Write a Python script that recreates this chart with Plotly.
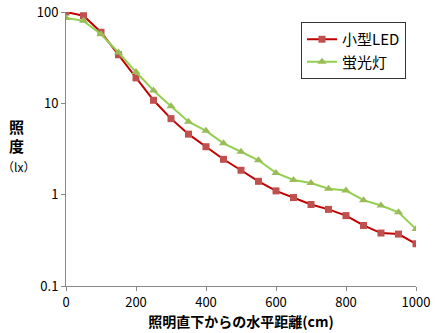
import plotly.graph_objects as go

distance = [0, 50, 100, 150, 200, 250, 300, 350, 400, 450, 500, 550, 600, 650, 700, 750, 800, 850, 900, 950, 1000]
led = [100, 91, 60, 34, 19, 10.8, 6.8, 4.6, 3.35, 2.44, 1.85, 1.40, 1.10, 0.93, 0.78, 0.69, 0.59, 0.46, 0.38, 0.37, 0.29]
fluor = [86, 80, 57, 36, 22, 13.8, 9.3, 6.3, 5.0, 3.65, 2.95, 2.38, 1.73, 1.45, 1.34, 1.16, 1.11, 0.87, 0.76, 0.64, 0.42]

y_ticks = [0.1, 1, 10, 100]
y_ticktext = ["0.1", "1", "10", "100"]
x_ticks = [0, 200, 400, 600, 800, 1000]

font_family = "Noto Sans CJK JP, Noto Sans, sans-serif"

ML, MR, MT, MB = 66, 20, 12, 47
W, H = 436, 333
pw = W - ML - MR
ph = H - MT - MB


def px_to_paper(px, py):
    return (px - ML) / pw, (H - MB - py) / ph


fig = go.Figure()
fig.add_trace(go.Scatter(
    x=distance, y=led, name="小型LED", mode="lines+markers",
    line=dict(color="#C00000", width=2),
    marker=dict(symbol="square", size=7, color="#C0504D"),
))
fig.add_trace(go.Scatter(
    x=distance, y=fluor, name="蛍光灯", mode="lines+markers",
    line=dict(color="#92D050", width=2),
    marker=dict(symbol="triangle-up", size=8, color="#9BBB59"),
))

lx, ly = px_to_paper(301, 22)
a1 = px_to_paper(17, 126)
a2 = px_to_paper(17, 145)
a3 = px_to_paper(18, 166)

fig.update_layout(
    width=W, height=H,
    margin=dict(l=ML, r=MR, t=MT, b=MB, autoexpand=False),
    paper_bgcolor="white", plot_bgcolor="white",
    font=dict(family=font_family, size=12, color="black"),
    showlegend=True,
    legend=dict(
        x=lx, y=ly, xanchor="left", yanchor="top",
        bordercolor="#333333", borderwidth=1, bgcolor="white",
        font=dict(size=15), itemwidth=30,
    ),
    xaxis=dict(
        range=[0, 1000], tickvals=x_ticks, showgrid=False, zeroline=False,
        showline=True, linecolor="#888888", linewidth=1, automargin=False,
        ticks="outside", tickcolor="#888888", ticklen=4,
        tickfont=dict(size=13),
        title=dict(text="<b>照明直下からの水平距離(cm)</b>", font=dict(size=14), standoff=0),
    ),
    yaxis=dict(
        type="log", range=[-1, 2], tickvals=y_ticks, ticktext=y_ticktext,
        showgrid=False, zeroline=False, automargin=False,
        showline=True, linecolor="#888888", linewidth=1,
        ticks="outside", tickcolor="#888888", ticklen=4,
        tickfont=dict(size=13),
    ),
    annotations=[
        dict(text="<b>照</b>", x=a1[0], y=a1[1], xref="paper", yref="paper",
             xanchor="center", yanchor="middle", showarrow=False, font=dict(size=15)),
        dict(text="<b>度</b>", x=a2[0], y=a2[1], xref="paper", yref="paper",
             xanchor="center", yanchor="middle", showarrow=False, font=dict(size=15)),
        dict(text="（lx）", x=a3[0], y=a3[1], xref="paper", yref="paper",
             xanchor="center", yanchor="middle", showarrow=False, font=dict(size=12)),
    ],
)

fig.write_html("out.html")
